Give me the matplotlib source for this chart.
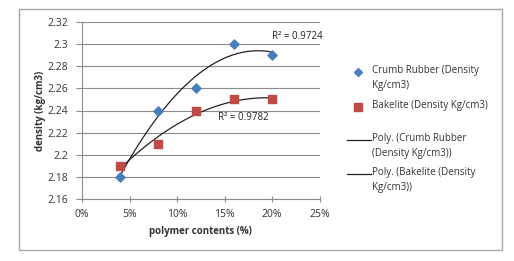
import numpy as np
import matplotlib
matplotlib.use('Agg')
import matplotlib.pyplot as plt
from matplotlib.patches import Rectangle
from matplotlib.lines import Line2D
from matplotlib.ticker import FuncFormatter

plt.rcParams['font.family'] = ['Open Sans', 'DejaVu Sans']

polymer = [0.04, 0.08, 0.12, 0.16, 0.20]
crumb = [2.18, 2.24, 2.26, 2.30, 2.29]
bakelite = [2.19, 2.21, 2.24, 2.25, 2.25]
r2_labels = ['R² = 0.9724', 'R² = 0.9782']
legend_labels = ['Crumb Rubber (Density\nKg/cm3)', 'Bakelite (Density Kg/cm3)',
                 'Poly. (Crumb Rubber\n(Density Kg/cm3))', 'Poly. (Bakelite (Density\nKg/cm3))']

W, H = 514, 261
fig = plt.figure(figsize=(W / 100, H / 100), dpi=100)
ax = fig.add_axes([82 / W, 1 - 199 / H, (319.5 - 82) / W, (199 - 22) / H])

# outer chart border
fig.patches.append(Rectangle((19 / W, 1 - 250 / H), (502 - 19) / W, (250 - 9) / H,
                             transform=fig.transFigure, fill=False, edgecolor='#a6a6a6', lw=1))

ax.scatter(polymer, crumb, marker='D', s=22, color='#4a7ebb', zorder=3)
ax.scatter(polymer, bakelite, marker='s', s=36, color='#be4b48', zorder=3)

xs = np.linspace(polymer[0], polymer[-1], 100)
c1 = np.polyfit(polymer, crumb, 2)
c2 = np.polyfit(polymer, bakelite, 2)
ax.plot(xs, np.polyval(c1, xs), color='#222222', lw=0.9, zorder=2)
ax.plot(xs, np.polyval(c2, xs), color='#222222', lw=0.9, zorder=2)

ax.text(0.2, 2.305, r2_labels[0], fontsize=7, color='#222222')
ax.text(0.143, 2.2315, r2_labels[1], fontsize=7, color='#222222')

ax.set_xlim(0, 0.25)
ax.set_ylim(2.16, 2.32)
ax.set_xticks([0, 0.05, 0.10, 0.15, 0.20, 0.25])
ax.set_yticks(np.arange(2.16, 2.321, 0.02))
ax.xaxis.set_major_formatter(FuncFormatter(lambda v, p: '%d%%' % round(v * 100)))
ax.yaxis.set_major_formatter(FuncFormatter(lambda v, p: ('%.2f' % v).rstrip('0').rstrip('.')))
ax.tick_params(labelsize=7.5, colors='#333333', width=0.8)
ax.tick_params(axis='y', length=4, pad=6, color='#8c8c8c')
ax.tick_params(axis='x', length=4, direction='inout', pad=5.5, color='#8c8c8c')
ax.grid(axis='y', color='#8c8c8c', lw=0.8)
ax.set_axisbelow(True)
for s in ['top', 'right']:
    ax.spines[s].set_visible(False)
ax.spines['left'].set_color('#8c8c8c')
ax.spines['bottom'].set_color('#8c8c8c')

ax.set_xlabel('polymer contents (%)', fontsize=7, fontweight='bold', color='#333333', labelpad=4)
ax.set_ylabel('density (kg/cm3)', fontsize=7, fontweight='bold', color='#333333', labelpad=1)

# legend, drawn by hand to keep the handle on the first text line
tx = 372 / W
rows = [72, 107, 140, 174]
fig.add_artist(Line2D([358 / W], [1 - rows[0] / H], marker='D', markersize=4.2,
                      color='#4a7ebb', transform=fig.transFigure))
fig.add_artist(Line2D([358 / W], [1 - rows[1] / H], marker='s', markersize=5.5,
                      color='#be4b48', transform=fig.transFigure))
for r in rows[2:]:
    fig.add_artist(Line2D([347 / W, 371 / W], [1 - r / H] * 2, color='#222222', lw=0.9,
                          transform=fig.transFigure))
for lab, r in zip(legend_labels, rows):
    fig.text(tx, 1 - (r - 6.5) / H, lab, fontsize=7, color='#333333', va='top',
             linespacing=1.45)

fig.savefig('out.png', dpi=100)
